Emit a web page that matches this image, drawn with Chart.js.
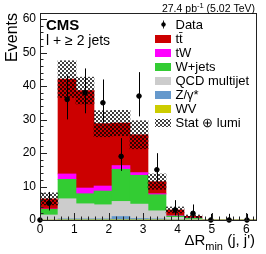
<!DOCTYPE html>
<html><head><meta charset="utf-8">
<script src="https://cdn.jsdelivr.net/npm/chart.js@4/dist/chart.umd.min.js"></script>
<style>html,body{margin:0;padding:0;background:#fff}</style>
</head><body>
<canvas id="c" width="266" height="254"></canvas>
<script>
// ---- data ----
const binLabels = ['0.00-0.52','0.52-1.05','1.05-1.57','1.57-2.09','2.09-2.62','2.62-3.14','3.14-3.67','3.67-4.19','4.19-4.71','4.71-5.24','5.24-5.76','5.76-6.28'];
const ttbar  = [3.0, 28.3, 29.1, 18.6, 12.7, 11.3, 3.6, 1.7, 0.5, 0, 0, 0];
const tW     = [0.1, 1.6, 1.7, 1.5, 1.1, 0.8, 0.3, 0.1, 0.05, 0, 0, 0];
const wjets  = [1.7, 5.8, 3.0, 4.1, 9.6, 8.6, 4.8, 0.4, 0.3, 0, 0, 0];
const qcd    = [1.5, 6.0, 4.5, 4.2, 4.5, 4.3, 2.4, 0.7, 0.2, 0, 0, 0];
const zgamma = [0.0, 0.3, 0.3, 0.3, 1.0, 0.4, 0.3, 0.1, 0.05, 0, 0, 0];
const wv     = [0.0, 0.05, 0.05, 0.05, 0.05, 0.05, 0.05, 0, 0, 0, 0, 0];
const uncert = [1.8, 5.5, 4.0, 3.9, 3.8, 4.2, 2.3, 0.9, 0.4, 0, 0, 0];
const dataX     = [0, 0.26, 0.79, 1.31, 1.83, 2.36, 2.88, 3.40, 3.93, 4.45, 4.97, 5.50, 6.02];
const dataY     = [0, 5, 36, 38, 35, 19, 37, 15, 3, 2, 0, 0, 0];
const dataErrUp = [0, 3.38, 7.06, 7.25, 6.96, 5.44, 7.15, 4.95, 2.92, 2.64, 1.84, 1.84, 1.84];
const dataErrDn = [0, 2.16, 5.97, 6.14, 5.88, 4.32, 6.06, 3.83, 1.63, 1.29, 0, 0, 0];
const xTicks = [0, 1, 2, 3, 4, 5, 6];
const yTicks = [0, 10, 20, 30, 40, 50, 60];
const X_MAX = 6.2832, Y_MAX = 61.8;

const FONT = '"Liberation Sans", Arial, Helvetica, sans-serif';
const COLORS = {tt:'#cc0000', tw:'#ff00ff', w:'#33cc33', qcd:'#cccccc', z:'#6699cc', wv:'#cccc00'};

const ctx0 = document.getElementById('c').getContext('2d');
function makeHatch(){
  const p = document.createElement('canvas'); p.width = 4; p.height = 4;
  const g = p.getContext('2d'); g.fillStyle = 'rgba(0,0,0,0.75)';
  g.fillRect(0,0,2,2); g.fillRect(2,2,2,2);
  return ctx0.createPattern(p, 'repeat');
}
const hatch = makeHatch();

const totals = ttbar.map((v,i) => v + tW[i] + wjets[i] + qcd[i] + zgamma[i] + wv[i]);
const band = totals.map((t,i) => uncert[i] > 0 ? [t - uncert[i], t + uncert[i]] : null);

function barDs(label, data, color){
  return {type:'bar', label, data, xAxisID:'xc', yAxisID:'y', stack:'mc', grouped:false,
    backgroundColor: color, borderWidth:0, barPercentage:1, categoryPercentage:1};
}

const errPlugin = {
  id:'errbars',
  afterDatasetsDraw(chart){
    const c = chart.ctx, xs = chart.scales.x, ys = chart.scales.yb;
    c.save(); c.strokeStyle = '#000'; c.lineWidth = 1;
    dataX.forEach((x,i) => {
      if (!dataErrUp[i] && !dataErrDn[i]) return;
      const px = Math.round(xs.getPixelForValue(x)) + 0.5;
      c.beginPath();
      c.moveTo(px, ys.getPixelForValue(dataY[i] + dataErrUp[i]));
      c.lineTo(px, ys.getPixelForValue(dataY[i] - dataErrDn[i]));
      c.stroke();
    });
    c.restore();
  }
};

const framePlugin = {
  id:'frame',
  afterDraw(chart){
    const c = chart.ctx, a = chart.chartArea, xs = chart.scales.x, ys = chart.scales.y;
    c.save();
    c.strokeStyle = '#222'; c.lineWidth = 1;
    c.strokeRect(Math.round(a.left)+0.5, Math.round(a.top)+0.5, Math.round(a.right-a.left), Math.round(a.bottom-a.top));
    c.beginPath();
    for (let k = 0; k <= 31; k++) {
      const v = k * 0.2; if (v > X_MAX) break;
      const px = Math.round(xs.getPixelForValue(v)) + 0.5;
      const len = (k % 5 === 0) ? 7 : 3.5;
      c.moveTo(px, a.bottom); c.lineTo(px, a.bottom - len);
    }
    for (let k = 0; k <= 30; k++) {
      const v = k * 2;
      const py = Math.round(ys.getPixelForValue(v)) + 0.5;
      const len = (k % 5 === 0) ? 7 : 3.5;
      c.moveTo(a.left, py); c.lineTo(a.left + len, py);
    }
    c.stroke();

    // texts
    c.fillStyle = '#000'; c.textBaseline = 'alphabetic';
    c.font = 'bold 15px ' + FONT; c.textAlign = 'left';
    c.fillText('CMS', 46, 30);
    c.font = '14px ' + FONT;
    c.fillText('l + \u2265 2 jets', 46, 45);

    // lumi label
    const p1 = '27.4 pb', sup = '-1', p2 = ' (5.02 TeV)';
    c.font = '10.5px ' + FONT; const w1 = c.measureText(p1).width, w3 = c.measureText(p2).width;
    c.font = '7.5px ' + FONT; const w2 = c.measureText(sup).width;
    let x0 = 255 - (w1 + w2 + w3);
    c.font = '10.5px ' + FONT; c.fillText(p1, x0, 11.5);
    c.font = '7.5px ' + FONT; c.fillText(sup, x0 + w1, 7.5);
    c.font = '10.5px ' + FONT; c.fillText(p2, x0 + w1 + w2, 11.5);

    // y title
    c.save(); c.translate(17, 13); c.rotate(-Math.PI/2);
    c.font = '16px ' + FONT; c.textAlign = 'right'; c.fillText('Events', 0, 0);
    c.restore();

    // x title
    const t1 = '\u0394R', t2 = 'min', t3 = ' (j, j\')';
    c.font = '15px ' + FONT; const a1 = c.measureText(t1).width, a3 = c.measureText(t3).width;
    c.font = '11px ' + FONT; const a2 = c.measureText(t2).width;
    let xx = 255 - (a1 + a2 + a3);
    c.font = '15px ' + FONT; c.fillText(t1, xx, 245);
    c.font = '11px ' + FONT; c.fillText(t2, xx + a1, 250);
    c.font = '15px ' + FONT; c.fillText(t3, xx + a1 + a2, 245);

    // legend
    const rows = [
      {t:'Data', kind:'data'},
      {t:'tt\u0304', col:COLORS.tt},
      {t:'tW', col:COLORS.tw},
      {t:'W+jets', col:COLORS.w},
      {t:'QCD multijet', col:COLORS.qcd},
      {t:'Z/\u03b3*', col:COLORS.z},
      {t:'WV', col:COLORS.wv},
      {t:'Stat \u2295 lumi', col:hatch}
    ];
    c.font = '13px ' + FONT; c.textBaseline = 'middle'; c.textAlign = 'left';
    rows.forEach((r,i) => {
      const yc = 24.5 + i * 14.1;
      if (r.kind === 'data') {
        c.beginPath(); c.moveTo(163.5, yc - 4); c.lineTo(163.5, yc + 4); c.stroke();
        c.beginPath(); c.arc(163.5, yc, 2.2, 0, Math.PI*2); c.fill();
      } else {
        c.fillStyle = r.col; c.fillRect(155, Math.round(yc - 4), 16, 8); c.fillStyle = '#000';
      }
      c.fillText(r.t, 175.5, yc + 0.5);
    });
    c.restore();
  }
};

new Chart(document.getElementById('c'), {
  type:'bar',
  data:{
    labels: binLabels,
    datasets:[
      {type:'scatter', label:'Data', data: dataX.map((x,i) => ({x, y:dataY[i]})), xAxisID:'x', yAxisID:'yb',
       backgroundColor:'#000', borderColor:'#000', pointRadius:2.3, pointHoverRadius:2.3, showLine:false, clip:false},
      {type:'bar', label:'Stat \u2295 lumi', data: band, xAxisID:'xc', yAxisID:'yb', grouped:false,
       backgroundColor: hatch, borderWidth:0, barPercentage:1, categoryPercentage:1},
      barDs('WV', wv, COLORS.wv),
      barDs('Z/\u03b3*', zgamma, COLORS.z),
      barDs('QCD multijet', qcd, COLORS.qcd),
      barDs('W+jets', wjets, COLORS.w),
      barDs('tW', tW, COLORS.tw),
      barDs('tt\u0304', ttbar, COLORS.tt)
    ]
  },
  options:{
    responsive:false, devicePixelRatio:1, animation:false,
    layout:{padding:{left:0, right:10, top:13, bottom:0}},
    plugins:{legend:{display:false}, tooltip:{enabled:false}},
    scales:{
      x:{type:'linear', position:'bottom', min:0, max:X_MAX, offset:false,
         afterBuildTicks:(s) => { s.ticks = xTicks.map(v => ({value:v})); },
         ticks:{color:'#000', font:{family:FONT, size:12}, padding:2, maxRotation:0, autoSkip:false},
         grid:{display:false, drawTicks:false, offset:false}, border:{display:false},
         afterFit:(s) => { s.height = 34; }},
      xc:{type:'category', display:false, offset:true, labels:binLabels},
      y:{type:'linear', position:'left', stacked:true, min:0, max:Y_MAX,
         afterBuildTicks:(s) => { s.ticks = yTicks.map(v => ({value:v})); },
         ticks:{color:'#000', font:{family:FONT, size:12}, padding:4},
         grid:{display:false, drawTicks:false}, border:{display:false},
         afterFit:(s) => { s.width = 40; }},
      yb:{type:'linear', display:false, min:0, max:Y_MAX}
    }
  },
  plugins:[errPlugin, framePlugin]
});
</script>
</body></html>
